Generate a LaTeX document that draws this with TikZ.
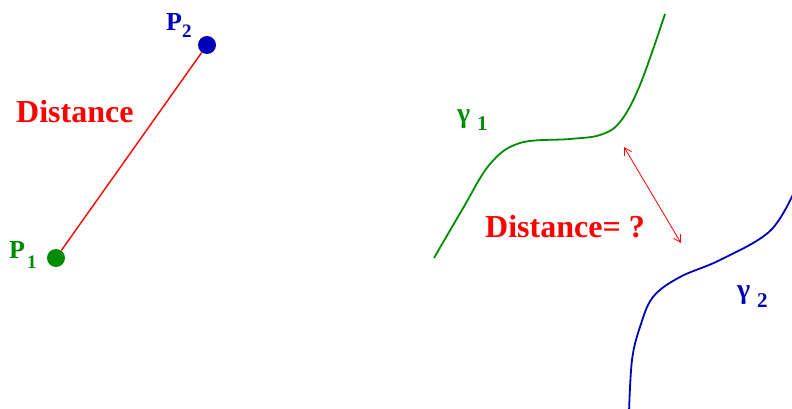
\documentclass[tikz,border=0pt]{standalone}
\usepackage{fontspec}
\setmainfont{Liberation Serif}
\usetikzlibrary{arrows.meta}
\definecolor{cgreen}{RGB}{0,140,0}
\definecolor{cblue}{RGB}{0,0,185}
\definecolor{cred}{RGB}{255,0,0}
\tikzset{
  dotnode/.style={circle,inner sep=0pt,minimum size=18pt},
  lbl/.style={inner sep=0pt,anchor=base west},
  bigtxt/.style={lbl,text=cred,font=\fontsize{32}{34}\selectfont\bfseries},
  plbl/.style={lbl,font=\fontsize{26}{28}\selectfont\bfseries},
  psub/.style={lbl,font=\fontsize{19}{21}\selectfont\bfseries},
  glbl/.style={lbl,font=\fontsize{28}{30}\selectfont\bfseries},
  gsub/.style={lbl,font=\fontsize{21}{23}\selectfont\bfseries},
  curve/.style={line width=1.8pt},
}
\begin{document}
\begin{tikzpicture}[x=1pt,y=-1pt]
\useasboundingbox (0,0) rectangle (792,409);
\clip (0,0) rectangle (792,409);
% left part
\node[dotnode,fill=cgreen] (p1) at (56,258) {};
\node[dotnode,fill=cblue] (p2) at (207,45) {};
\draw[cred,line width=1.4pt] (p1) -- (p2);
\node[plbl,text=cgreen] (p1l) at (9,258) {P};
\node[psub,text=cgreen] (p1s) at (27,268) {1};
\node[plbl,text=cblue] (p2l) at (166,31) {P};
\node[psub,text=cblue] (p2s) at (182,38) {2};
\node[bigtxt] (d1) at (16,123) {Distance};
% right part
\draw[cgreen,curve] plot[smooth,tension=0.6] coordinates {(434,258) (462,210) (490,164) (520,143) (570,139) (600,135) (620,122) (640,85) (665,14)};
\draw[cblue,curve] plot[smooth,tension=0.6] coordinates {(629,412) (632,360) (640,327) (653,297) (680,277) (720,260) (770,231) (795,190)};
\node[glbl,text=cgreen] (g1) at (457,123) {γ};
\node[gsub,text=cgreen] (g1s) at (477,131) {1};
\node[glbl,text=cblue] (g2) at (737,298) {γ};
\node[gsub,text=cblue] (g2s) at (757,307) {2};
\node[bigtxt] (d2) at (485,237) {Distance= ?};
\coordinate (a1) at (624,147);
\coordinate (a2) at (681,243);
\draw[cred,line width=0.8pt,{Straight Barb[length=7pt,width=8pt]}-{Straight Barb[length=7pt,width=8pt]}] (a1) -- (a2);
\end{tikzpicture}
\end{document}
